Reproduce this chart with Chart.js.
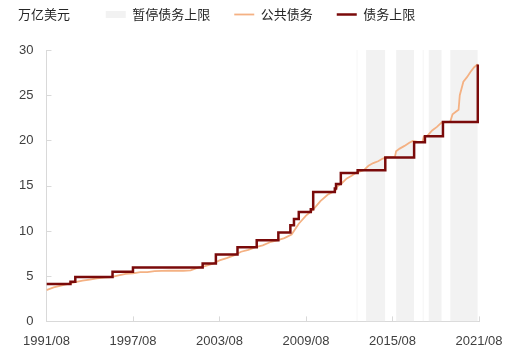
<!DOCTYPE html>
<html lang="zh">
<head>
    <meta charset="UTF-8">
    <title>债务上限</title>
    <script src="https://cdn.jsdelivr.net/npm/chart.js"></script>
    <style>
        html, body { margin: 0; padding: 0; background: #fff; }
        .chart-box { width: 520px; height: 361px; position: relative; }
    </style>
</head>
<body>
    <div class="chart-box">
        <canvas id="debtChart"></canvas>
    </div>

    <script>
        // 债务上限（万亿美元），按调整日期
        const ceilingDates = ['1991/08', '1993/04', '1993/08', '1996/03', '1997/08', '2002/06', '2003/05',
            '2004/11', '2006/03', '2007/09', '2008/07', '2008/10', '2009/02', '2009/12', '2010/02',
            '2011/08', '2011/09', '2012/01', '2013/03', '2015/02', '2017/02', '2017/11', '2019/02', '2021/07'];
        const ceilingValues = [4.145, 4.37, 4.9, 5.5, 5.95, 6.4, 7.384,
            8.184, 8.965, 9.815, 10.615, 11.315, 12.104, 12.394, 14.294,
            14.694, 15.194, 16.394, 16.699, 18.113, 19.809, 20.456, 22.03, 28.4];

        // 公共债务（万亿美元）
        const debtDates = ['1991/08', '1992/02', '1992/08', '1993/02', '1993/08', '1994/02', '1994/08',
            '1995/02', '1995/08', '1996/02', '1996/08', '1997/02', '1997/08', '1998/02', '1998/08',
            '1999/02', '1999/08', '2000/02', '2000/08', '2001/02', '2001/08', '2002/02', '2002/08',
            '2003/02', '2003/08', '2004/02', '2004/08', '2005/02', '2005/08', '2006/02', '2006/08',
            '2007/02', '2007/08', '2008/02', '2008/08', '2009/02', '2009/08', '2010/02', '2010/08',
            '2011/02', '2011/06', '2011/08', '2011/10', '2012/02', '2012/06', '2012/10', '2013/02',
            '2013/08', '2013/12', '2014/04', '2014/08', '2014/12', '2015/03', '2015/08', '2015/10',
            '2015/11', '2016/02', '2016/06', '2016/10', '2017/01', '2017/05', '2017/09', '2017/10',
            '2018/01', '2018/05', '2018/09', '2019/01', '2019/04', '2019/08', '2019/10', '2020/01',
            '2020/03', '2020/04', '2020/07', '2020/10', '2021/01', '2021/04', '2021/07'];
        const debtValues = [3.45, 3.75, 3.95, 4.15, 4.33, 4.5, 4.62,
            4.75, 4.85, 4.9, 5.1, 5.25, 5.32, 5.45, 5.45,
            5.55, 5.58, 5.62, 5.6, 5.6, 5.65, 5.95, 6.1,
            6.35, 6.75, 7.0, 7.3, 7.7, 7.9, 8.2, 8.4,
            8.75, 8.95, 9.2, 9.6, 10.8, 11.7, 12.35, 13.3,
            14.0, 14.29, 14.3, 14.9, 15.3, 15.8, 16.1, 16.45,
            16.7, 17.2, 17.5, 17.7, 18.0, 18.15, 18.15, 18.15,
            18.8, 19.1, 19.4, 19.75, 19.95, 19.85, 19.85, 20.4,
            20.5, 21.1, 21.5, 22.0, 22.03, 22.03, 22.9, 23.2,
            23.4, 25.0, 26.5, 27.0, 27.6, 28.1, 28.43];

        // 暂停债务上限区间
        const suspendStarts = ['2013/02', '2013/10', '2015/11', '2017/09', '2018/02', '2019/08'];
        const suspendEnds   = ['2013/03', '2015/02', '2017/02', '2017/10', '2019/01', '2021/07'];

        const xTickLabels = ['1991/08', '1997/08', '2003/08', '2009/08', '2015/08', '2021/08'];

        // months since 1991/08
        const toMonth = d => {
            const [y, m] = d.split('/').map(Number);
            return (y - 1991) * 12 + (m - 8);
        };

        const ceilingPoints = ceilingDates.map((d, i) => ({ x: toMonth(d), y: ceilingValues[i] }));
        const debtPoints = debtDates.map((d, i) => ({ x: toMonth(d), y: debtValues[i] }));
        const shadePoints = [];
        suspendStarts.forEach((s, i) => {
            const a = toMonth(s), b = toMonth(suspendEnds[i]);
            shadePoints.push({ x: a, y: 30 }, { x: b, y: 30 }, { x: b + 0.01, y: null });
        });

        const fontFamily = "'Noto Sans CJK SC', 'Liberation Sans', sans-serif";

        // leave room between legend and plot, nudge legend right a bit
        const legendGap = {
            id: 'legendGap',
            beforeInit(chart) {
                const fit = chart.legend.fit;
                chart.legend.fit = function () {
                    fit.bind(chart.legend)();
                    this.height += 19;
                };
            },
            afterLayout(chart) {
                chart.legend.left += 18;
                chart.legend.right += 18;
            }
        };

        // unit label + small inward tick marks
        const extras = {
            id: 'extras',
            afterDraw(chart) {
                const ctx = chart.ctx;
                const area = chart.chartArea;
                const box = chart.legend.legendHitBoxes[0];
                ctx.save();
                ctx.fillStyle = '#262626';
                ctx.font = '13px ' + fontFamily;
                ctx.textBaseline = 'middle';
                ctx.fillText('万亿美元', 18, box.top + box.height / 2);

                ctx.strokeStyle = '#d9d9d9';
                ctx.lineWidth = 1;
                const ys = chart.scales.y;
                ys.ticks.forEach(t => {
                    const py = Math.round(ys.getPixelForValue(t.value)) + 0.5;
                    ctx.beginPath();
                    ctx.moveTo(area.left, py);
                    ctx.lineTo(area.left + 5, py);
                    ctx.stroke();
                });
                const xs = chart.scales.x;
                xs.ticks.forEach(t => {
                    const px = Math.round(xs.getPixelForValue(t.value)) + 0.5;
                    ctx.beginPath();
                    ctx.moveTo(px, area.bottom);
                    ctx.lineTo(px, area.bottom - 5);
                    ctx.stroke();
                });
                ctx.restore();
            }
        };

        const ctx = document.getElementById('debtChart').getContext('2d');
        new Chart(ctx, {
            type: 'line',
            data: {
                datasets: [
                    {
                        label: '债务上限',
                        data: ceilingPoints,
                        borderColor: '#7a0a0a',
                        backgroundColor: '#7a0a0a',
                        borderWidth: 2.5,
                        stepped: 'before',
                        pointRadius: 0,
                        pointStyle: 'line',
                        fill: false
                    },
                    {
                        label: '公共债务',
                        data: debtPoints,
                        borderColor: '#f4b183',
                        backgroundColor: '#f4b183',
                        borderWidth: 1.8,
                        pointRadius: 0,
                        pointStyle: 'line',
                        tension: 0,
                        fill: false
                    },
                    {
                        label: '暂停债务上限',
                        data: shadePoints,
                        borderWidth: 0,
                        borderColor: 'rgba(0,0,0,0)',
                        backgroundColor: '#f2f2f2',
                        pointRadius: 0,
                        pointStyle: 'rect',
                        spanGaps: false,
                        fill: 'origin'
                    }
                ]
            },
            options: {
                responsive: true,
                maintainAspectRatio: false,
                animation: false,
                layout: { padding: { left: 6, right: 41, top: -16, bottom: 0 } },
                plugins: {
                    tooltip: { enabled: false },
                    legend: {
                        position: 'top',
                        reverse: true,
                        labels: {
                            usePointStyle: true,
                            pointStyleWidth: 20,
                            boxWidth: 20,
                            boxHeight: 7,
                            padding: 24,
                            color: '#262626',
                            font: { size: 13, family: fontFamily }
                        }
                    }
                },
                scales: {
                    x: {
                        type: 'linear',
                        min: 0,
                        max: 360,
                        grid: { drawOnChartArea: false, drawTicks: false },
                        border: { color: '#d9d9d9' },
                        ticks: {
                            stepSize: 72,
                            autoSkip: false,
                            maxRotation: 0,
                            padding: 12,
                            color: '#404040',
                            font: { size: 13, family: "'Liberation Sans', sans-serif" },
                            callback: v => xTickLabels[v / 72]
                        }
                    },
                    y: {
                        min: 0,
                        max: 30,
                        grid: { drawOnChartArea: false, drawTicks: false },
                        border: { color: '#d9d9d9' },
                        ticks: {
                            stepSize: 5,
                            padding: 13,
                            color: '#404040',
                            font: { size: 13, family: "'Liberation Sans', sans-serif" }
                        }
                    }
                }
            },
            plugins: [legendGap, extras]
        });
    </script>
</body>
</html>
